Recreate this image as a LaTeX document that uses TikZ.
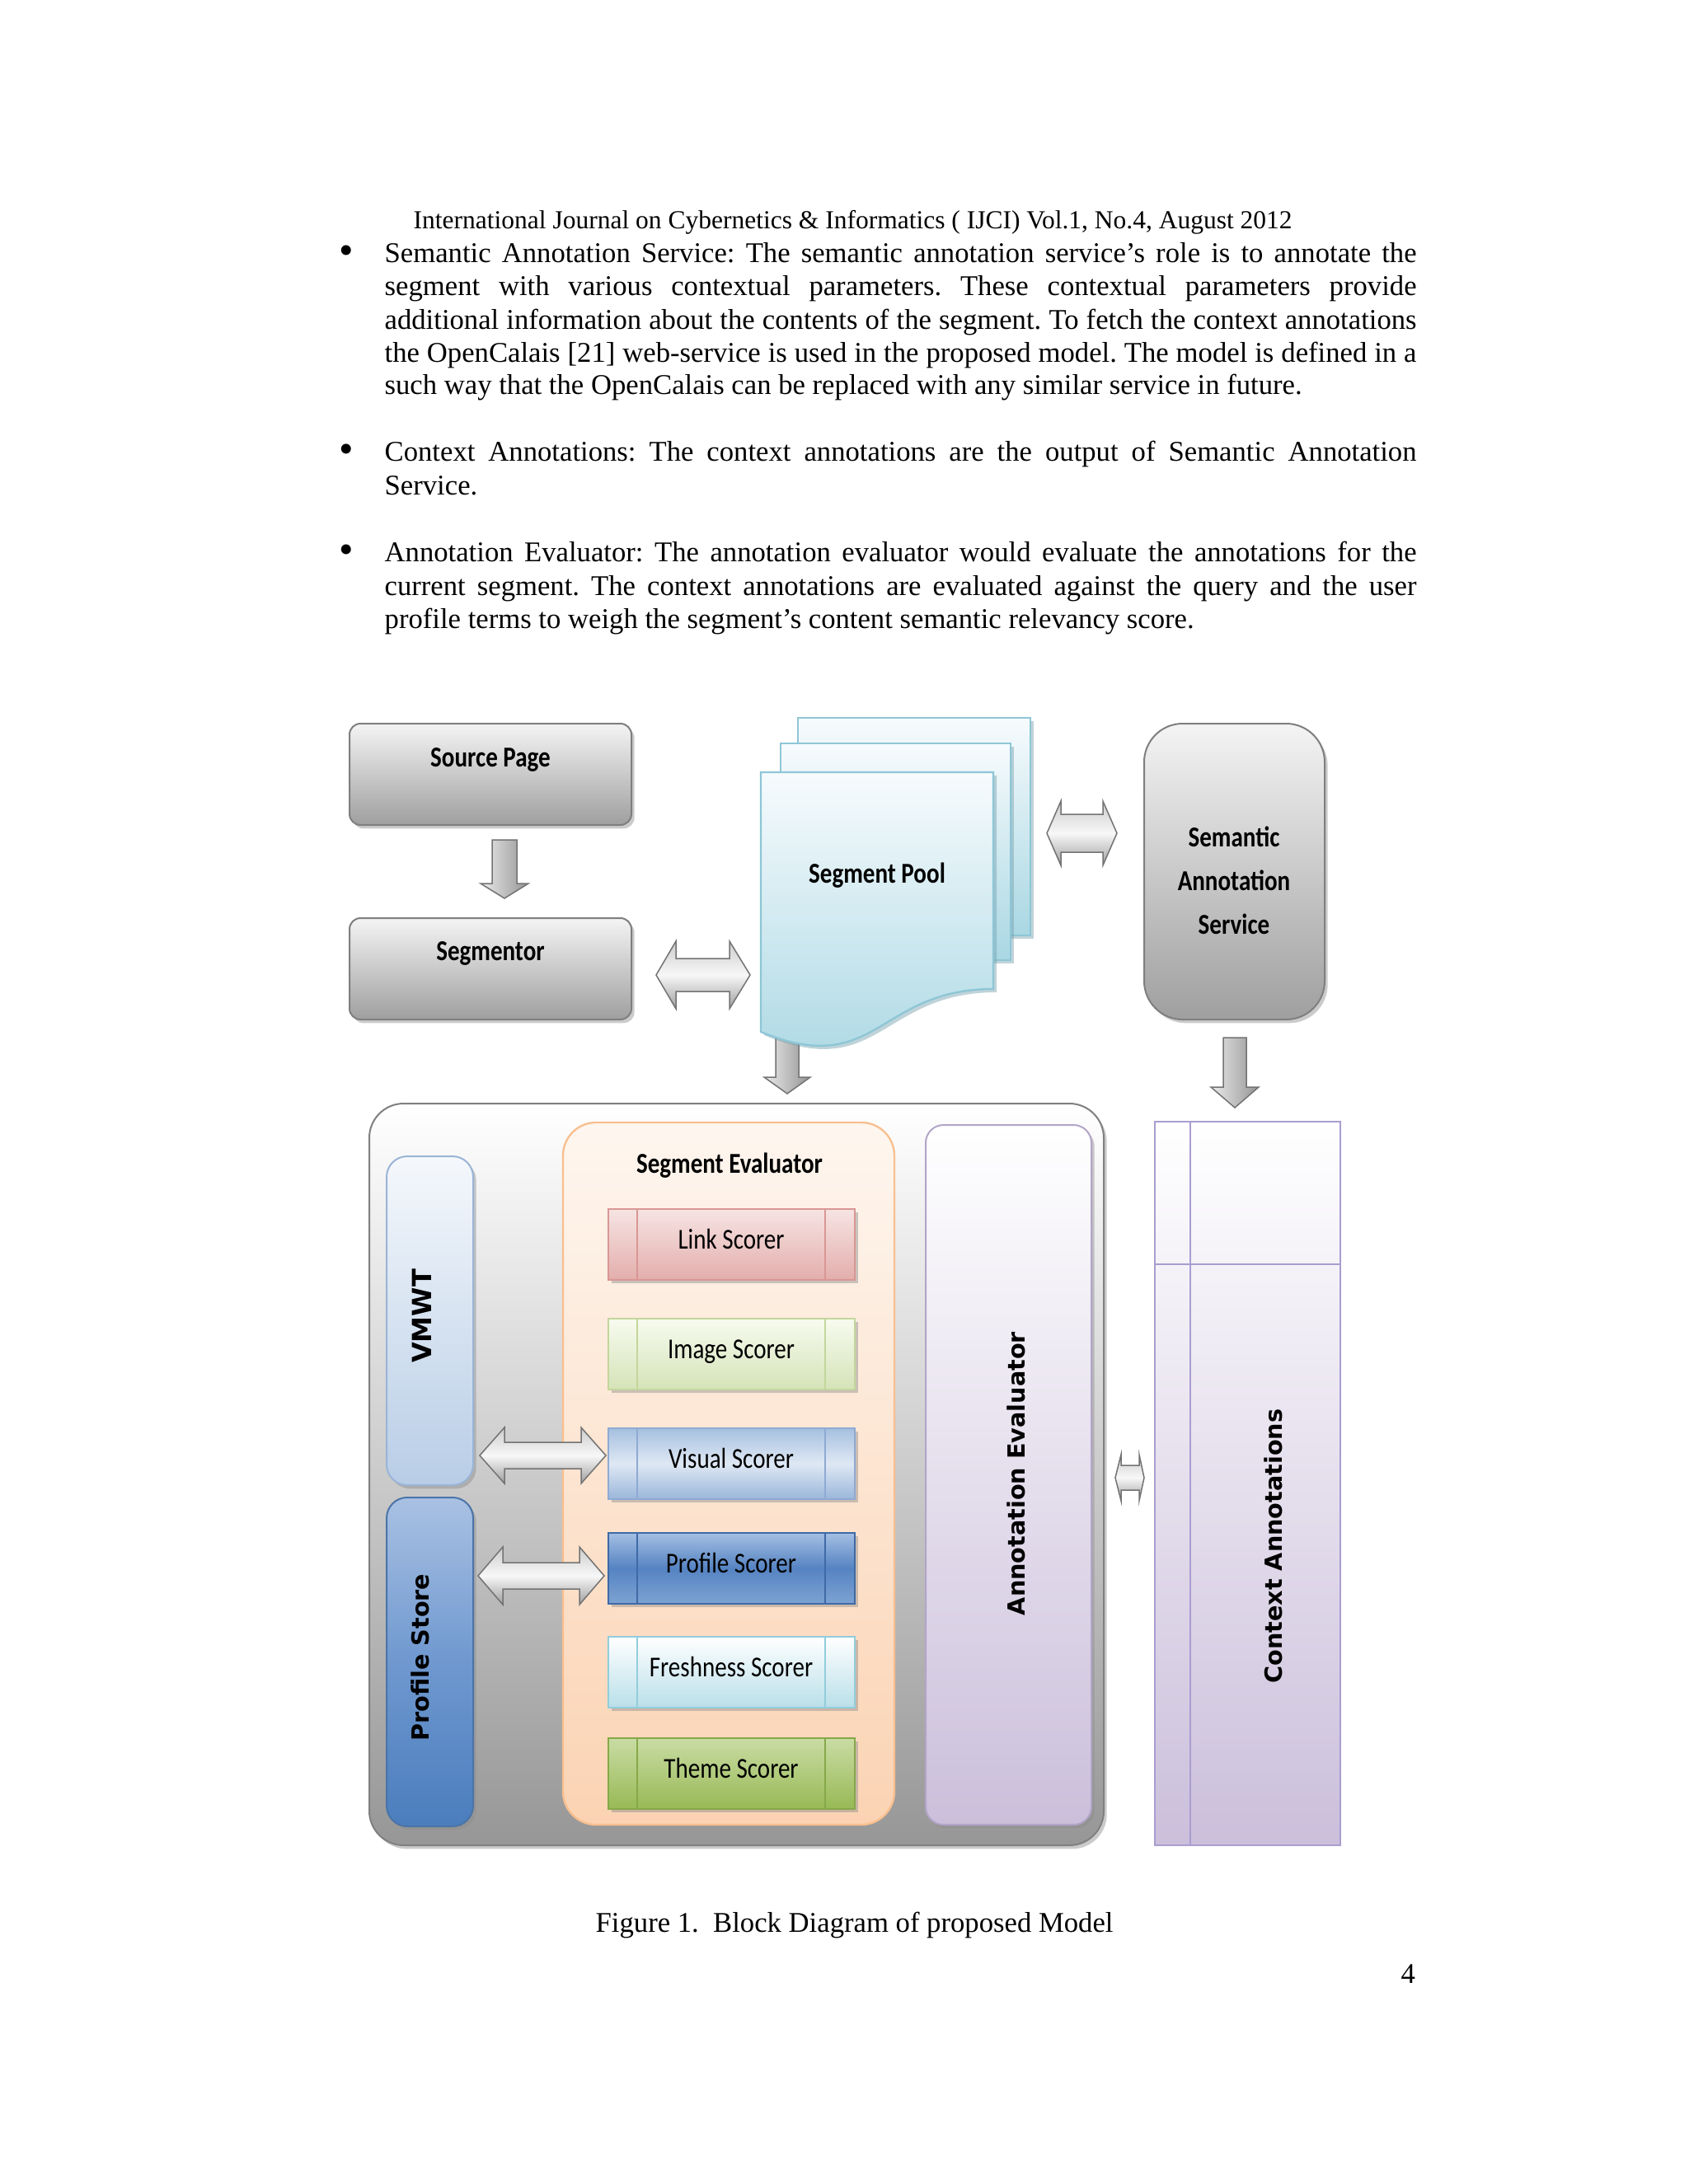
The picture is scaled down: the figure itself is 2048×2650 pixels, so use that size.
\documentclass[tikz,border=0pt]{standalone}
\usepackage{fontspec}
\setmainfont{Liberation Serif}
\newfontfamily\dfont[FakeStretch=0.83]{Carlito}
\newfontfamily\vfont{DejaVu Sans}
\usetikzlibrary{fit,shadows}
\frenchspacing
\definecolor{gborder}{HTML}{7F7F7F}
\definecolor{gtop}{HTML}{F4F4F4}
\definecolor{gbot}{HTML}{9F9F9F}
\definecolor{pooltop}{HTML}{F7FBFD}
\definecolor{poolbot}{HTML}{A9D7E3}
\definecolor{poolbd}{HTML}{8EC6D6}
\definecolor{vmtop}{HTML}{F5F8FC}
\definecolor{vmbot}{HTML}{B8CDE6}
\definecolor{vmbd}{HTML}{9AB4D6}
\definecolor{pstop}{HTML}{A9C1E3}
\definecolor{psmid}{HTML}{6F98CF}
\definecolor{psbot}{HTML}{4B7DBD}
\definecolor{psbd}{HTML}{4A74A8}
\definecolor{setop}{HTML}{FEF6EF}
\definecolor{sebot}{HTML}{FBD3B3}
\definecolor{sebd}{HTML}{F9BF8F}
\definecolor{lavtop}{HTML}{FFFFFF}
\definecolor{lavbot}{HTML}{CBBFDB}
\definecolor{lavbd}{HTML}{B2A5C8}
\definecolor{ctxbd}{HTML}{A99DD0}
\definecolor{lktop}{HTML}{F6E4E3}
\definecolor{lkbot}{HTML}{E3AEAC}
\definecolor{lkbd}{HTML}{D99694}
\definecolor{imtop}{HTML}{F7FBEF}
\definecolor{imbot}{HTML}{D5E3B8}
\definecolor{imbd}{HTML}{C3D69B}
\definecolor{vitop}{HTML}{A6C0E0}
\definecolor{vimid}{HTML}{DFE8F4}
\definecolor{vibot}{HTML}{9AB6DA}
\definecolor{vibd}{HTML}{8EAAD3}
\definecolor{prtop}{HTML}{A4BFE3}
\definecolor{prmid}{HTML}{5583C2}
\definecolor{prbot}{HTML}{7EA3D3}
\definecolor{prbd}{HTML}{3F6AA6}
\definecolor{frtop}{HTML}{FFFFFF}
\definecolor{frbot}{HTML}{B9DFE9}
\definecolor{frbd}{HTML}{92CDDC}
\definecolor{thtop}{HTML}{C9DCA4}
\definecolor{thbot}{HTML}{98B955}
\definecolor{thbd}{HTML}{86A84A}

\tikzset{
  shd/.style={drop shadow={shadow xshift=1.1pt, shadow yshift=-1.3pt, fill=black!45, opacity=0.45}},
  graybox/.style={inner sep=0pt, draw=gborder, line width=0.6pt, top color=gtop, bottom color=gbot, shd},
  boxlbl/.style={font=\dfont\bfseries\fontsize{10.5}{12}\selectfont, inner sep=0pt, anchor=base},
  sclbl/.style={font=\dfont\fontsize{10.5}{12}\selectfont, inner sep=0pt, anchor=base},
  vlbl/.style={font=\vfont\bfseries\fontsize{8.6}{10}\selectfont, rotate=90, inner sep=0pt},
  barrow/.style={draw=black!55, line width=0.45pt, top color=black!20, bottom color=black!38, middle color=black!3},
  darrow/.style={draw=black!55, line width=0.45pt, left color=black!8, right color=black!42},
  pool/.style={draw=poolbd, line width=0.7pt, top color=pooltop, bottom color=poolbot},
  poolsh/.style={fill=poolbd!80!black, opacity=0.45},
  txt/.style={anchor=base west, inner sep=0pt},
  bulletnode/.style={anchor=base west, inner sep=0pt, font=\fontsize{15}{15}\selectfont},
}

\newcommand{\dblH}[7]{%
  \path[barrow] (#1,#5) -- (#2,#5-#6) -- (#2,#5-#7) -- (#3,#5-#7) -- (#3,#5-#6) -- (#4,#5)
    -- (#3,#5+#6) -- (#3,#5+#7) -- (#2,#5+#7) -- (#2,#5+#6) -- cycle;}
\newcommand{\downA}[6]{%
  \path[darrow] (#1-#5,#2) -- (#1+#5,#2) -- (#1+#5,#3) -- (#1+#6,#3) -- (#1,#4)
    -- (#1-#6,#3) -- (#1-#5,#3) -- cycle;}
\newcommand{\scorer}[5]{%
  \node[fit={(738,#2)(1037,#2+86)}, inner sep=0pt, line width=0.6pt, shd, #4] (#1) {};
  \draw[#5, line width=0.6pt] (773,#2) -- (773,#2+86) (1001,#2) -- (1001,#2+86);
  \node[sclbl] (#1t) at (887,#2+48) {#3};}
\newcommand{\jline}[3]{\node[txt] (#1) at (466,#2) {\makebox[375.5pt][s]{#3}};}
\newcommand{\nline}[3]{\node[txt] (#1) at (466,#2) {#3};}

\begin{document}
\begin{tikzpicture}[x=0.29995pt, y=-0.29995pt, font=\fontsize{10.4}{11.9}\selectfont]
\useasboundingbox (0,0) rectangle (2048,2650);
\fill[white] (0,0) rectangle (2048,2650);

% ---------------- page text ----------------
\node[txt, font=\fontsize{9.45}{11}\selectfont] (header) at (501,277)
  {International Journal on Cybernetics \& Informatics ( IJCI) Vol.1, No.4, August 2012};

\node[bulletnode] (bul1) at (411,320) {•};
\jline{p1a}{318}{Semantic Annotation Service: The semantic annotation service’s role is to annotate the}
\jline{p1b}{358}{segment with various contextual parameters. These contextual parameters provide}
\jline{p1c}{399}{additional information about the contents of the segment. To fetch the context annotations}
\jline{p1d}{439}{the OpenCalais [21] web-service is used in the proposed model. The model is defined in a}
\nline{p1e}{478}{such way that the OpenCalais can be replaced with any similar service in future.}

\node[bulletnode] (bul2) at (411,561) {•};
\jline{p2a}{559}{Context Annotations: The context annotations are the output of Semantic Annotation}
\nline{p2b}{600}{Service.}

\node[bulletnode] (bul3) at (411,683) {•};
\jline{p3a}{681}{Annotation Evaluator: The annotation evaluator would evaluate the annotations for the}
\jline{p3b}{722}{current segment. The context annotations are evaluated against the query and the user}
\nline{p3c}{762}{profile terms to weigh the segment’s content semantic relevancy score.}

% ---------------- top row ----------------
\node[graybox, rounded corners=4pt, fit={(424,878)(766,1001)}] (src) {};
\node[boxlbl] (srct) at (595,930) {Source Page};
\downA{612}{1019}{1072}{1090}{15}{29}
\node[graybox, rounded corners=4pt, fit={(424,1114)(766,1237)}] (seg) {};
\node[boxlbl] (segt) at (595,1165) {Segmentor};

\dblH{796}{820}{885}{910}{1183}{41}{20}

% segment pool (multi-document)
\downA{955}{1250}{1307}{1327}{14}{28}
\fill[poolsh] (972,875) rectangle (1254,1139);
\path[pool] (968,871) rectangle (1250,1135);
\fill[poolsh] (951,906) rectangle (1230,1169);
\path[pool] (947,902) rectangle (1226,1165);
\fill[poolsh] (927,941) -- (1209,941) -- (1209,1204) .. controls (1068,1204) and (1068,1314) .. (927,1256) -- cycle;
\path[pool] (923,937) -- (1205,937) -- (1205,1200) .. controls (1064,1200) and (1064,1310) .. (923,1252) -- cycle;
\node[boxlbl] (poolt) at (1064,1071) {Segment Pool};

\dblH{1270}{1287}{1338}{1355}{1011}{39}{23}

\node[graybox, rounded corners=14pt, fit={(1388,878)(1607,1237)}] (sas) {};
\node[boxlbl] (sast1) at (1497,1027) {Semantic};
\node[boxlbl] (sast2) at (1497,1080) {Annotation};
\node[boxlbl] (sast3) at (1497,1133) {Service};

\downA{1498}{1259}{1319}{1344}{14}{29}

% ---------------- main container ----------------
\node[fit={(448,1339)(1339,2239)}, inner sep=0pt, rounded corners=12.5pt, draw=black!50,
      line width=0.6pt, top color=white, bottom color=black!41, shd] (cont) {};

\node[fit={(469,1403)(574,1802)}, inner sep=0pt, rounded corners=7.5pt, draw=vmbd,
      line width=0.6pt, top color=vmtop, bottom color=vmbot, shd] (vmwt) {};
\node[vlbl, font=\vfont\bfseries\fontsize{9.6}{11}\selectfont] (vmwtt) at (512,1597) {VMWT};
\node[fit={(469,1817)(574,2216)}, inner sep=0pt, rounded corners=7.5pt, draw=psbd,
      line width=0.6pt, top color=pstop, bottom color=psbot, middle color=psmid, shd] (pstore) {};
\node[vlbl] (pstoret) at (510,2011) {Profile Store};

\node[fit={(683,1362)(1085,2214)}, inner sep=0pt, rounded corners=12pt, draw=sebd,
      line width=0.7pt, top color=setop, bottom color=sebot] (seval) {};
\node[boxlbl] (sevalt) at (885,1423) {Segment Evaluator};

\scorer{link}{1467}{Link Scorer}{draw=lkbd, top color=lktop, bottom color=lkbot}{lkbd}
\scorer{image}{1600}{Image Scorer}{draw=imbd, top color=imtop, bottom color=imbot}{imbd}
\scorer{visual}{1733}{Visual Scorer}{draw=vibd, top color=vitop, bottom color=vibot, middle color=vimid}{vibd}
\scorer{profile}{1860}{Profile Scorer}{draw=prbd, top color=prtop, bottom color=prbot, middle color=prmid}{prbd}
\scorer{fresh}{1986}{Freshness Scorer}{draw=frbd, top color=frtop, bottom color=frbot}{frbd}
\scorer{theme}{2109}{Theme Scorer}{draw=thbd, top color=thtop, bottom color=thbot}{thbd}

\dblH{582}{612}{705}{735}{1766}{34}{16}
\dblH{580}{610}{703}{733}{1912}{35}{16}

\node[fit={(1123,1365)(1324,2214)}, inner sep=0pt, rounded corners=6.5pt, draw=lavbd,
      line width=0.6pt, top color=lavtop, bottom color=lavbot, shd] (aeval) {};
\node[vlbl] (aevalt) at (1233,1788) {Annotation Evaluator};

\dblH{1353}{1360}{1382}{1388}{1793}{28}{15}

% context annotations (internal storage)
\node[fit={(1401,1361)(1626,2239)}, inner sep=0pt, draw=ctxbd, line width=0.7pt,
      top color=lavtop, bottom color=lavbot] (ctx) {};
\draw[ctxbd, line width=0.6pt] (1444,1361) -- (1444,2239) (1401,1534) -- (1626,1534);
\node[vlbl] (ctxt) at (1545,1876) {Context Annotations};

% ---------------- caption ----------------
\node[txt] (cap) at (722,2344) {Figure 1.\ \ Block Diagram of proposed Model};
\node[txt] (pgno) at (1699,2406) {4};
\end{tikzpicture}
\end{document}
